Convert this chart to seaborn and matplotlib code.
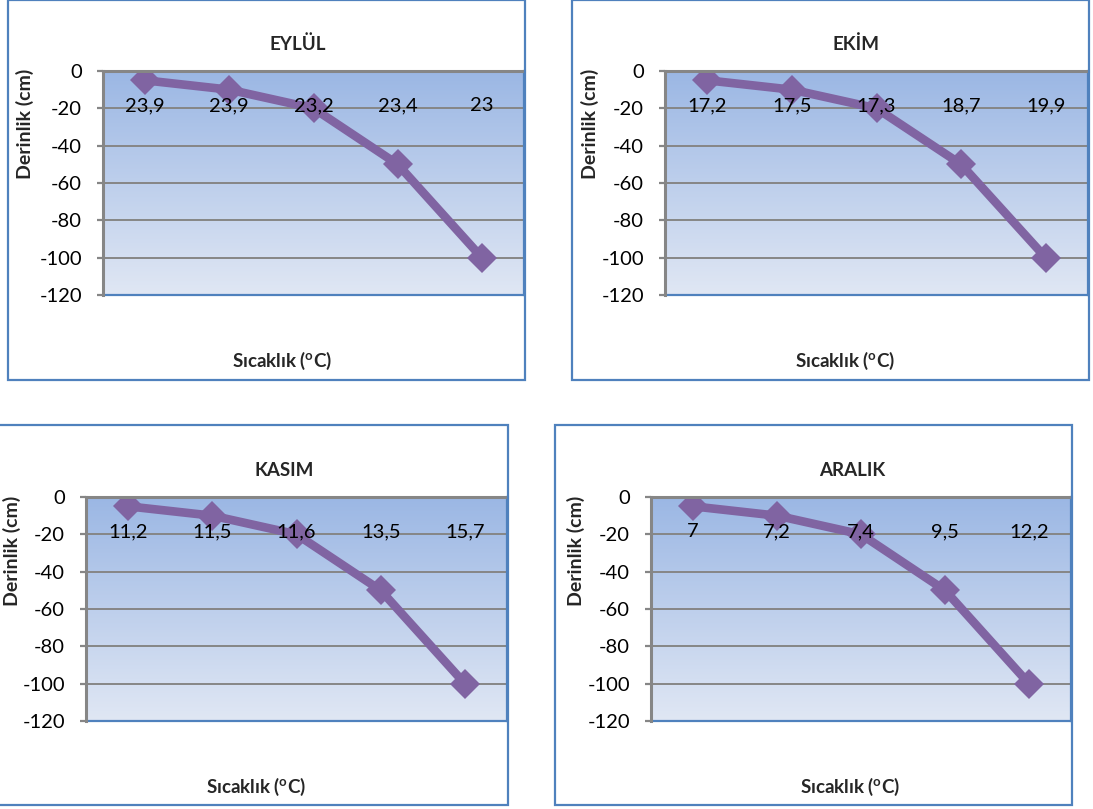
import matplotlib
matplotlib.use("Agg")
import matplotlib.pyplot as plt
from matplotlib.patches import Rectangle
import numpy as np
import seaborn as sns

# ---------------- data ----------------
titles = ["EYLÜL", "EKİM", "KASIM", "ARALIK"]
depths = [-5, -10, -20, -50, -100]
temps_eylul = ["23,9", "23,9", "23,2", "23,4", "23"]
temps_ekim = ["17,2", "17,5", "17,3", "18,7", "19,9"]
temps_kasim = ["11,2", "11,5", "11,6", "13,5", "15,7"]
temps_aralik = ["7", "7,2", "7,4", "9,5", "12,2"]
temp_labels = [temps_eylul, temps_ekim, temps_kasim, temps_aralik]
y_ticks = [0, -20, -40, -60, -80, -100, -120]
y_label = "Derinlik (cm)"
x_label = r"Sıcaklık ($^{\mathbf{o}}$C)"

# ---------------- style ----------------
sns.set_theme(style="white")
plt.rcParams["font.family"] = ["Lato", "DejaVu Sans"]
plt.rcParams["mathtext.fontset"] = "custom"
plt.rcParams["mathtext.rm"] = "Lato"
plt.rcParams["mathtext.bf"] = "Lato:bold"
plt.rcParams["mathtext.it"] = "Lato:italic"

W, H = 1093, 809
fig = plt.figure(figsize=(W / 100, H / 100), dpi=100)
fig.patch.set_facecolor("white")

LINE = "#8064A2"
GRID = "#868686"
BORDER = "#4F81BD"

# layout in pixels: box (x0,y0,x1,y1), plot (x0,y0,x1,y1), title, ylabel, xlabel centres
layout = [
    dict(box=(8, 0, 525, 380), plot=(103, 71, 524, 295), title=(298, 44), ylab=(25, 124), xlab=(282, 361)),
    dict(box=(572, 0, 1089, 380), plot=(665, 71, 1088, 295), title=(856, 44), ylab=(590, 124), xlab=(845, 361)),
    dict(box=(-9, 425, 508, 805), plot=(86, 497, 507, 721), title=(284, 471), ylab=(12, 551), xlab=(256, 787)),
    dict(box=(555, 425, 1072, 805), plot=(651, 497, 1071, 721), title=(852, 471), ylab=(576, 551), xlab=(850, 787)),
]

grad = np.linspace(0, 1, 256).reshape(-1, 1)
top_c = np.array([155, 183, 228]) / 255.0
bot_c = np.array([224, 231, 244]) / 255.0
grad_img = top_c[None, None, :] * (1 - grad[:, :, None]) + bot_c[None, None, :] * grad[:, :, None]

for i, lay in enumerate(layout):
    bx0, by0, bx1, by1 = lay["box"]
    fig.patches.append(Rectangle((bx0 / W, 1 - by1 / H), (bx1 - bx0) / W, (by1 - by0) / H,
                                 transform=fig.transFigure, fill=False,
                                 edgecolor=BORDER, lw=1.6, zorder=0))
    px0, py0, px1, py1 = lay["plot"]
    ax = fig.add_axes([px0 / W, 1 - py1 / H, (px1 - px0) / W, (py1 - py0) / H])
    ax.set_facecolor("none")
    ax.imshow(grad_img, extent=[0, 1, 0, 1], transform=ax.transAxes, aspect="auto", zorder=0)

    cats = temp_labels[i]
    xpos = list(range(len(cats)))
    sns.lineplot(x=xpos, y=depths, ax=ax, color=LINE, lw=6.2, marker="D",
                 markersize=15, markeredgewidth=0, sort=False)

    ax.set_xlim(-0.5, len(cats) - 0.5)
    ax.set_ylim(-120, 0)
    for yv in y_ticks[1:-1]:
        ax.axhline(yv, color=GRID, lw=1.4, zorder=1)
    ax.axhline(-120, color=BORDER, lw=1.6, zorder=2, clip_on=False)

    ax.spines["bottom"].set_position(("data", 0))
    ax.spines["bottom"].set_color(GRID)
    ax.spines["bottom"].set_linewidth(2.2)
    ax.spines["left"].set_color(GRID)
    ax.spines["left"].set_linewidth(2.2)
    ax.spines["top"].set_visible(False)
    ax.spines["right"].set_color(BORDER)
    ax.spines["right"].set_linewidth(1.6)

    ax.set_xticks(xpos)
    ax.set_xticklabels(cats)
    ax.tick_params(axis="x", length=0, pad=19, labelsize=14.5, labelcolor="black")
    ax.xaxis.set_zorder(6)
    ax.set_yticks(y_ticks)
    ax.set_yticklabels([str(v) for v in y_ticks])
    ax.tick_params(axis="y", length=4, width=1.6, color=GRID, pad=11, labelsize=14.5,
                   labelcolor="black", left=True)
    ax.grid(False)
    ax.set_xlabel("")
    ax.set_ylabel("")

    tx, ty = lay["title"]
    fig.text(tx / W, 1 - ty / H, titles[i], ha="center", va="center",
             fontsize=13.5, fontweight="bold")
    lx, ly = lay["ylab"]
    fig.text(lx / W, 1 - ly / H, y_label, ha="center", va="center", rotation=90,
             fontsize=14, fontweight="bold")
    xx, xy = lay["xlab"]
    fig.text(xx / W, 1 - xy / H, x_label, ha="center", va="center",
             fontsize=13.5, fontweight="bold")

fig.savefig("out.png", dpi=100)
